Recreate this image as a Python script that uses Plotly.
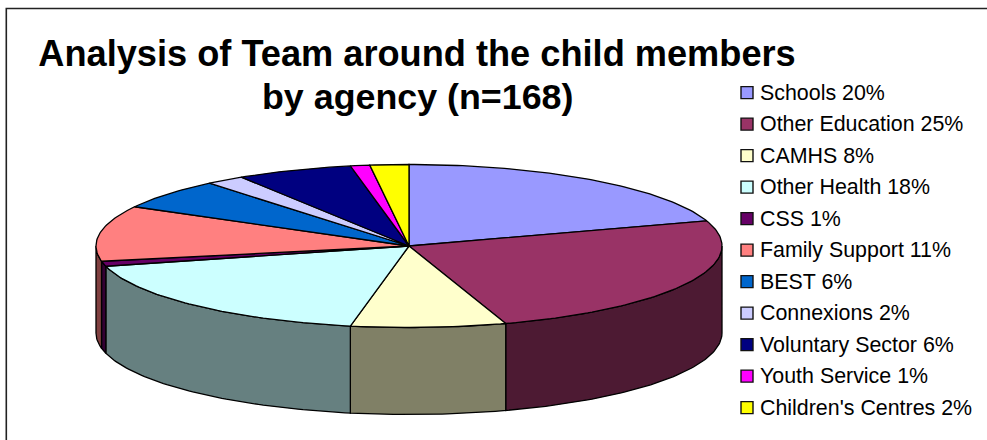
import math
import plotly.graph_objects as go

categories = ["Schools", "Other Education", "CAMHS", "Other Health", "CSS", "Family Support",
              "BEST", "Connexions", "Voluntary Sector", "Youth Service", "Children's Centres"]
values = [20, 25, 8, 18, 1, 11, 6, 2, 6, 1, 2]
top_colors = ["#9999FF", "#993366", "#FFFFCC", "#CCFFFF", "#660066", "#FF8080",
              "#0066CC", "#CCCCFF", "#000080", "#FF00FF", "#FFFF00"]
wall_colors = ["#4D4D80", "#4D1A33", "#808066", "#668080", "#330033", "#804040",
               "#003366", "#666680", "#000040", "#800080", "#808000"]

W, H = 987, 440
CX, CY, RX, RY, DEPTH = 409, 246, 313, 81.5, 87
OUT = "#000000"


def pt(deg, drop=0):
    a = math.radians(deg)
    return CX + RX * math.sin(a), CY - RY * math.cos(a) + drop


def arc(a0, a1, drop=0):
    n = max(2, int(abs(a1 - a0)) + 2)
    return [pt(a0 + (a1 - a0) * i / (n - 1), drop) for i in range(n)]


fig = go.Figure()
total = sum(values)
angles = [0]
for v in values:
    angles.append(angles[-1] + 360 * v / total)

# side walls (front half of the disc only)
for name, a0, a1, col in zip(categories, angles, angles[1:], wall_colors):
    lo, hi = max(a0, 90), min(a1, 270)
    if lo >= hi:
        continue
    pts = arc(lo, hi) + arc(hi, lo, DEPTH)
    pts.append(pts[0])
    fig.add_trace(go.Scatter(x=[p[0] for p in pts], y=[p[1] for p in pts], mode="lines",
                             fill="toself", fillcolor=col, line=dict(color=OUT, width=1.3),
                             name=name + " side", showlegend=False, hoverinfo="skip"))

# top faces
for name, v, a0, a1, col in zip(categories, values, angles, angles[1:], top_colors):
    pts = [(CX, CY)] + arc(a0, a1) + [(CX, CY)]
    fig.add_trace(go.Scatter(x=[p[0] for p in pts], y=[p[1] for p in pts], mode="lines",
                             fill="toself", fillcolor=col, line=dict(color=OUT, width=1.3),
                             name=f"{name} {v}%", showlegend=False, hoverinfo="name"))

# key
KEY_X, KEY_Y, KEY_STEP, KEY_TEXT_X = 747, 92.6, 31.5, 758
fig.add_trace(go.Scatter(x=[KEY_X] * len(categories), y=[KEY_Y + KEY_STEP * i for i in range(len(categories))],
                         mode="markers",
                         marker=dict(symbol="square", size=12, color=top_colors, line=dict(color="#111", width=1.4)),
                         showlegend=False, hoverinfo="skip"))
annotations = [dict(x=KEY_TEXT_X, y=KEY_Y + KEY_STEP * i, xref="x", yref="y", xanchor="left", yanchor="middle",
                    text=f"{c} {v}%", showarrow=False, font=dict(size=21.4, color="#000", family="Liberation Sans"))
               for i, (c, v) in enumerate(zip(categories, values))]
annotations.append(dict(x=417, y=97, xref="x", yref="y", xanchor="center", yanchor="middle",
                        text="<b>by agency (n=168)</b>", showarrow=False,
                        font=dict(size=35.8, color="#000", family="Liberation Sans")))

fig.update_layout(
    width=W, height=H, margin=dict(l=0, r=0, t=0, b=0), paper_bgcolor="white", plot_bgcolor="white",
    title=dict(text="<b>Analysis of Team around the child members</b>", x=417 / W, xanchor="center",
               y=1 - 53 / H, yanchor="middle", font=dict(size=36.2, color="#000", family="Liberation Sans")),
    xaxis=dict(range=[0, W], visible=False, fixedrange=True),
    yaxis=dict(range=[H, 0], visible=False, fixedrange=True),
    showlegend=False, annotations=annotations,
    shapes=[dict(type="rect", xref="x", yref="y", x0=6.3, y0=8.5, x1=1010, y1=470, line=dict(color="#222", width=1.6), layer="below")],
)
fig.write_html("out.html", config={"displayModeBar": False},
               post_script="document.body.style.margin='0';document.body.style.overflow='hidden';")
